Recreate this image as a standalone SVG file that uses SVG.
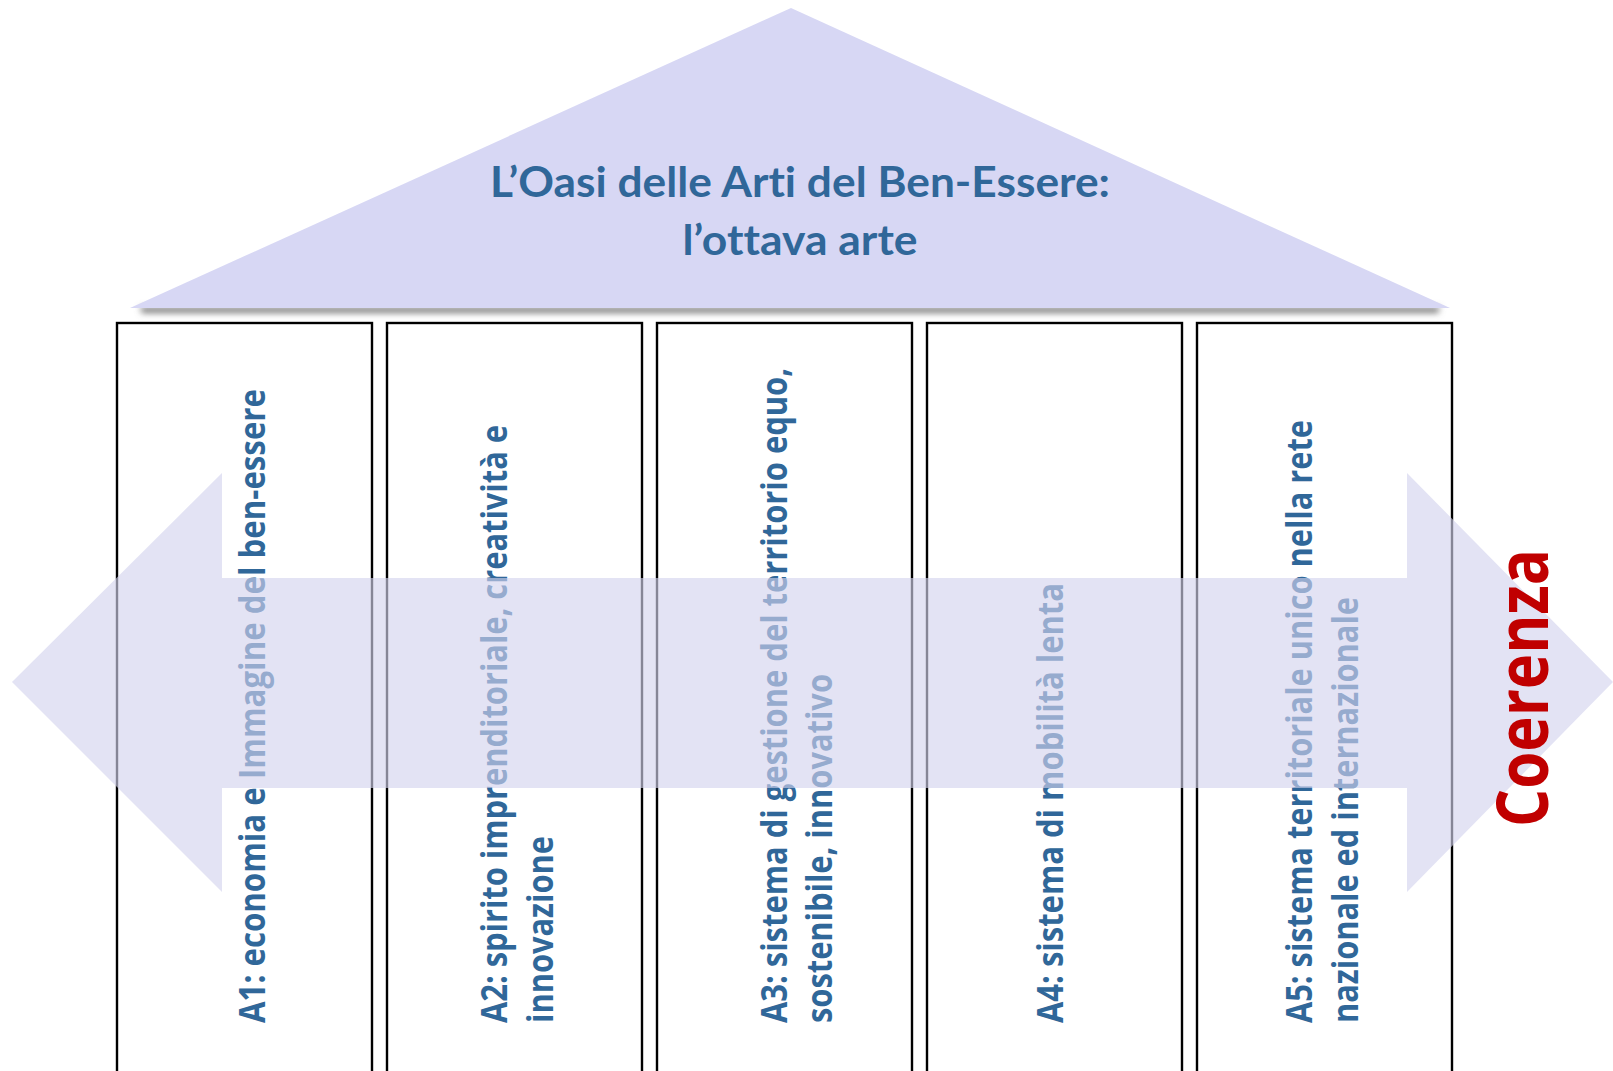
<svg xmlns="http://www.w3.org/2000/svg" width="1613" height="1071" viewBox="0 0 1613 1071">
  <defs>
    <filter id="blur" x="-5%" y="-200%" width="110%" height="500%">
      <feGaussianBlur stdDeviation="3"/>
    </filter>
    <filter id="soft" x="-2%" y="-2%" width="104%" height="104%">
      <feGaussianBlur stdDeviation="0.6"/>
    </filter>
  </defs>
  <style>
    text { font-variant-ligatures: none; font-feature-settings: "liga" 0, "clig" 0; }
    .title { font-family: Lato, "Open Sans", "Liberation Sans", sans-serif; font-weight: 700; font-size: 42px; fill: #306799; }
    .col { font-family: "Open Sans", "Liberation Sans", sans-serif; font-weight: 700; font-size: 35px; fill: #306799; }
    .box { fill: #ffffff; stroke: #000000; stroke-width: 2.4; }
    .big { font-family: "Open Sans", "Liberation Sans", sans-serif; font-weight: 700; font-size: 71px; fill: #c00000; }
  </style>
  <rect width="1613" height="1071" fill="#ffffff"/>

  <g id="roof">
    <polygon points="140,307 1440,307 1438,313 142,313" fill="#7a7a7a" filter="url(#blur)"/>
    <polygon points="791,8 1450,308 130,308" fill="#d7d7f4" filter="url(#soft)"/>
    <text class="title" x="800" y="197" text-anchor="middle" textLength="620" lengthAdjust="spacingAndGlyphs">L’Oasi delle Arti del Ben-Essere:</text>
    <text class="title" x="800" y="255" text-anchor="middle" textLength="235" lengthAdjust="spacingAndGlyphs">l’ottava arte</text>
  </g>

  <g id="A1">
    <rect class="box" x="117" y="323" width="255" height="770"/>
    <text class="col" transform="translate(265,1023) rotate(-90)" textLength="634" lengthAdjust="spacingAndGlyphs">A1: economia e Immagine del ben-essere</text>
  </g>
  <g id="A2">
    <rect class="box" x="387" y="323" width="255" height="770"/>
    <text class="col" transform="translate(507,1023) rotate(-90)" textLength="598" lengthAdjust="spacingAndGlyphs">A2: spirito imprenditoriale, creatività e</text>
    <text class="col" transform="translate(553,1023) rotate(-90)" textLength="187" lengthAdjust="spacingAndGlyphs">innovazione</text>
  </g>
  <g id="A3">
    <rect class="box" x="657" y="323" width="255" height="770"/>
    <text class="col" transform="translate(787,1023) rotate(-90)" textLength="655" lengthAdjust="spacingAndGlyphs">A3: sistema di gestione del territorio equo,</text>
    <text class="col" transform="translate(832,1023) rotate(-90)" textLength="349" lengthAdjust="spacingAndGlyphs">sostenibile, innovativo</text>
  </g>
  <g id="A4">
    <rect class="box" x="927" y="323" width="255" height="770"/>
    <text class="col" transform="translate(1063,1023) rotate(-90)" textLength="440" lengthAdjust="spacingAndGlyphs">A4: sistema di mobilità lenta</text>
  </g>
  <g id="A5">
    <rect class="box" x="1197" y="323" width="255" height="770"/>
    <text class="col" transform="translate(1312,1023) rotate(-90)" textLength="603" lengthAdjust="spacingAndGlyphs">A5: sistema territoriale unico nella rete</text>
    <text class="col" transform="translate(1358,1023) rotate(-90)" textLength="426" lengthAdjust="spacingAndGlyphs">nazionale ed internazionale</text>
  </g>

  <g id="connectors">
    <path d="M12,682 L222,473 L222,578 L1407,578 L1407,473 L1613,682 L1407,892 L1407,788 L222,788 L222,892 Z" fill="rgb(211,211,238)" fill-opacity="0.63"/>
  </g>

  <g id="coerenza">
    <text class="big" transform="translate(1548,827) rotate(-90)" textLength="278" lengthAdjust="spacingAndGlyphs">Coerenza</text>
  </g>
</svg>
